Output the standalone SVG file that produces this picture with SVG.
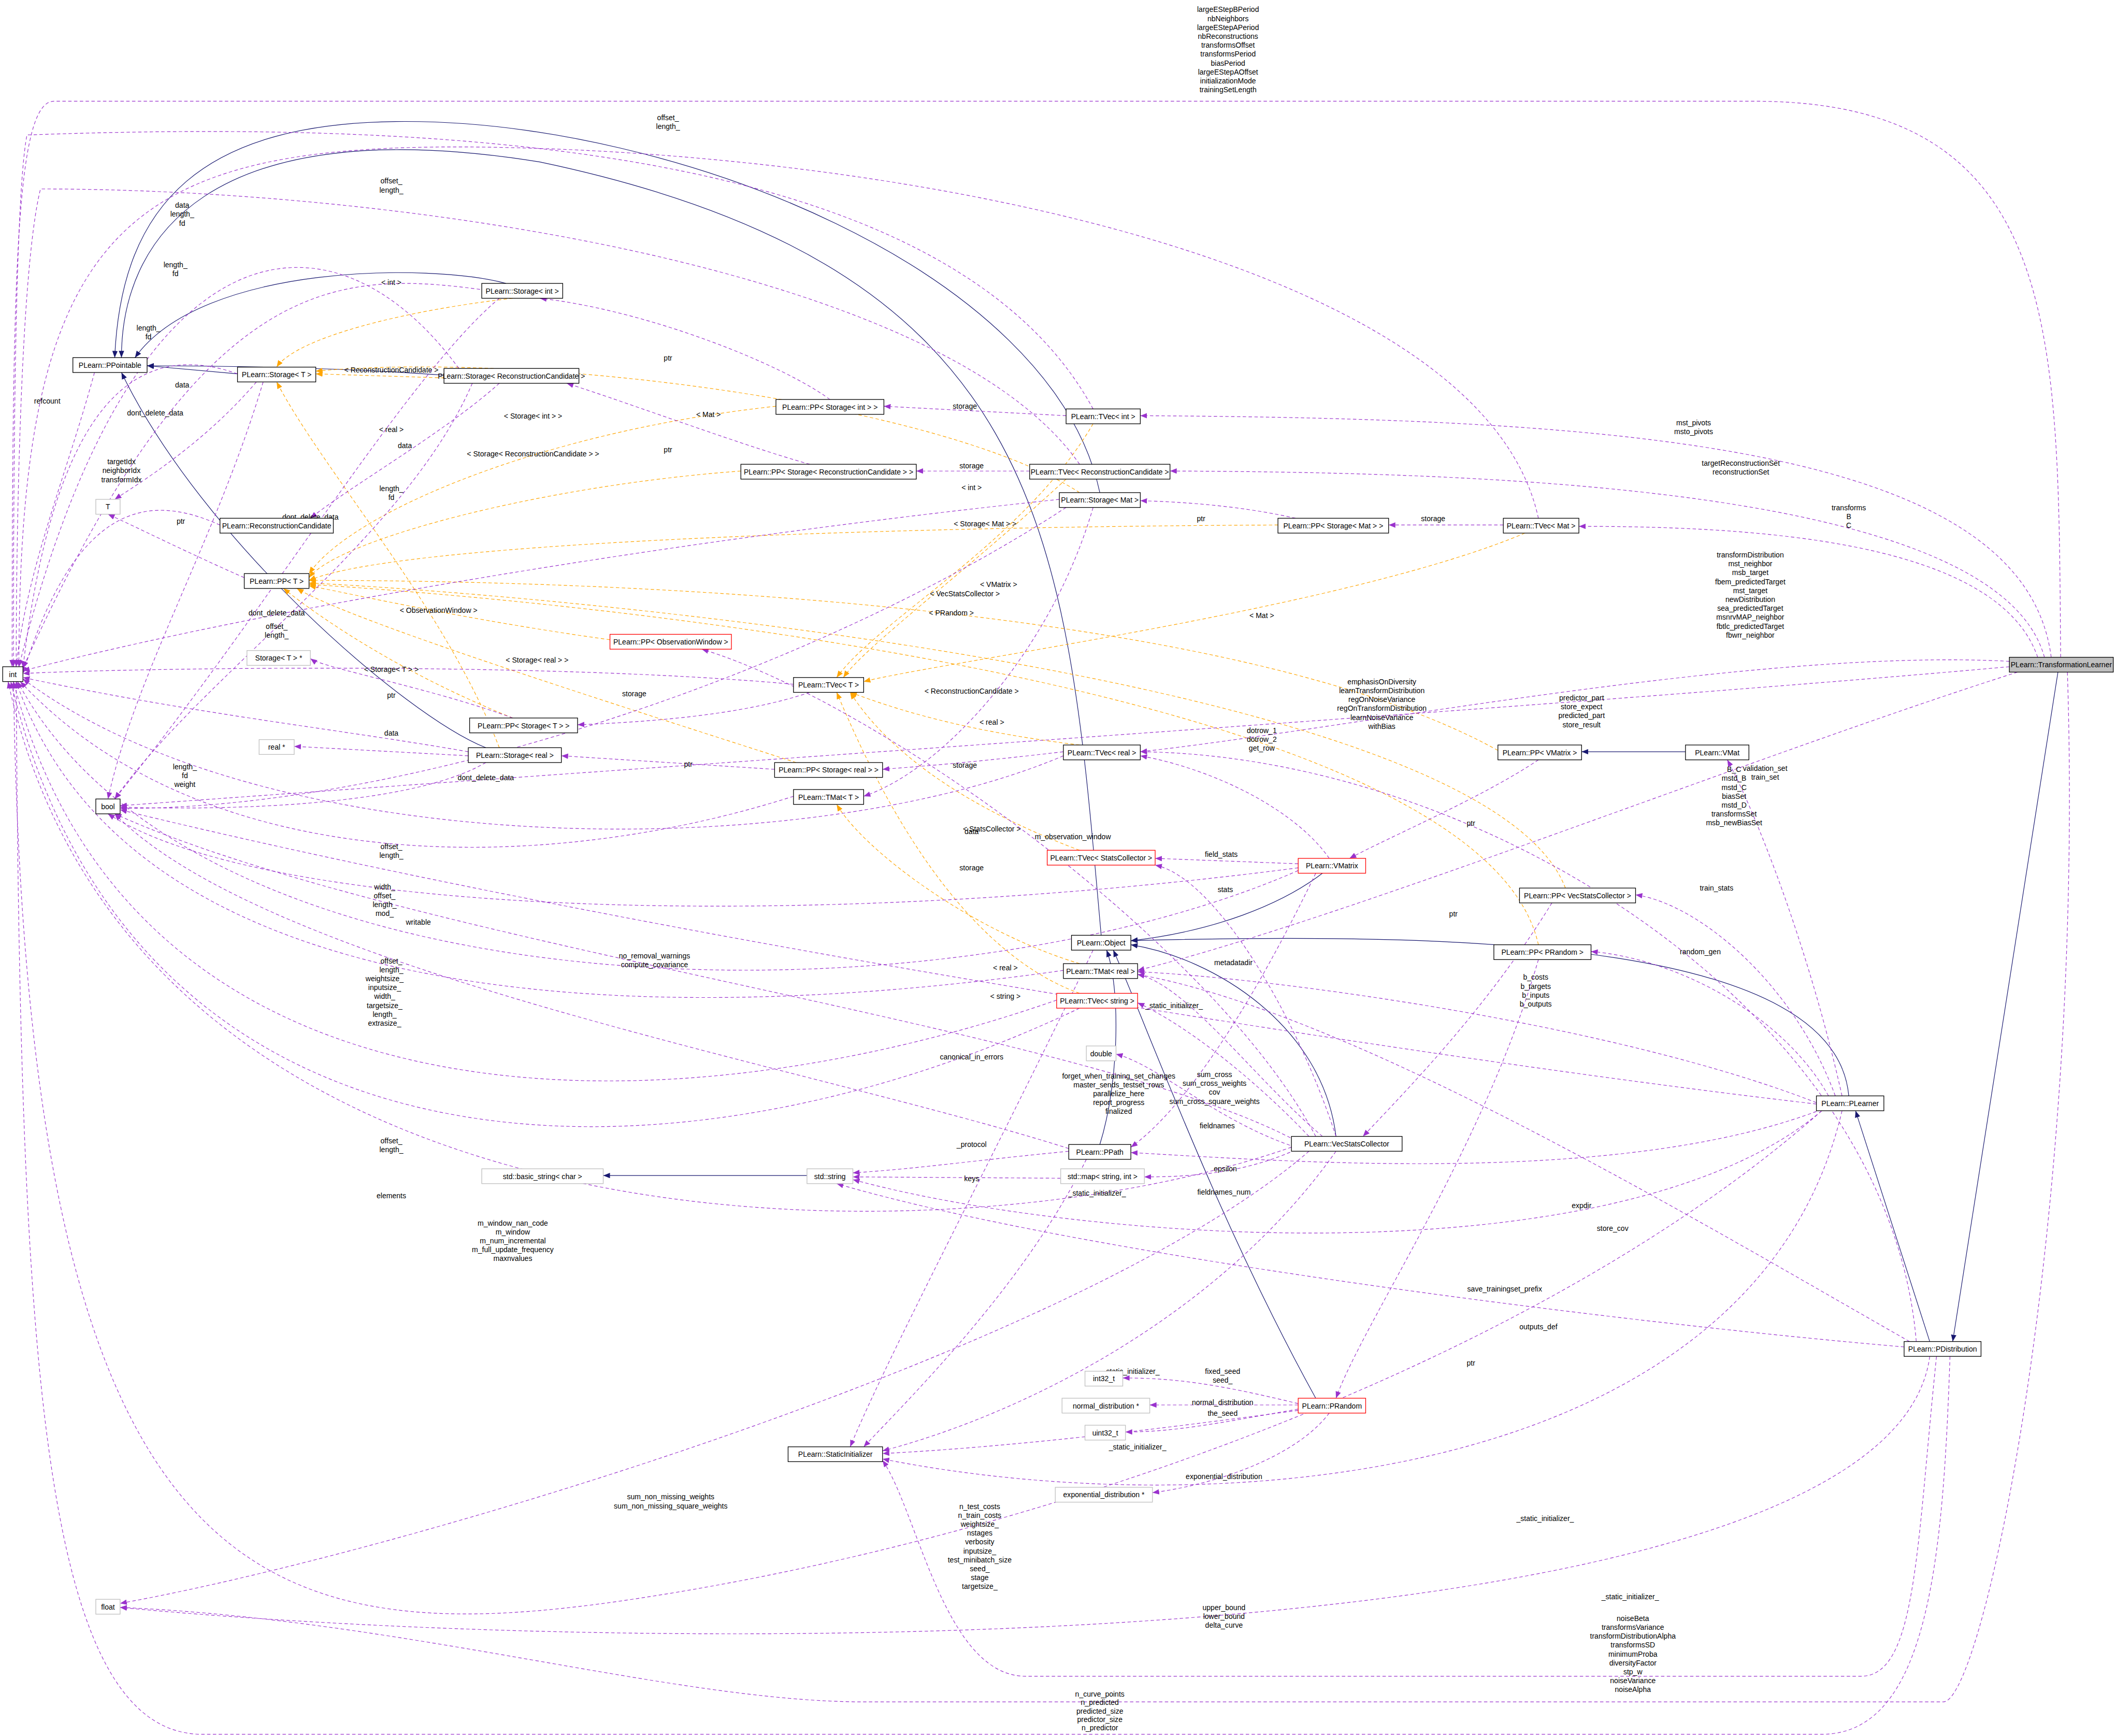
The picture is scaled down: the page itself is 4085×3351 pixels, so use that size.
<svg xmlns="http://www.w3.org/2000/svg" width="4085" height="3351" viewBox="0 0 4085 3351">
<style>
text{font-family:"Liberation Sans",Arial,sans-serif;font-size:5.4px;fill:#000}
.n rect{fill:#fff;stroke:#000;stroke-width:0.5}
.g rect{fill:#fff;stroke:#bfbfbf;stroke-width:0.5}
.r rect{fill:#fff;stroke:#f00;stroke-width:0.5}
.n text,.g text,.r text{text-anchor:middle}
.e{fill:none;stroke:#9a32cd;stroke-width:0.45;stroke-dasharray:2.5,1.8;marker-end:url(#mp)}
.o{fill:none;stroke:#ffa500;stroke-width:0.45;stroke-dasharray:2.5,1.8;marker-end:url(#mo)}
.i{fill:none;stroke:#191970;stroke-width:0.45;marker-end:url(#mi)}
.l text{text-anchor:middle}
</style>
<defs>
<marker id="mp" markerUnits="userSpaceOnUse" markerWidth="5" markerHeight="4" refX="5" refY="2" orient="auto"><path d="M0,0L5,2L0,4z" fill="#9a32cd"/></marker>
<marker id="mo" markerUnits="userSpaceOnUse" markerWidth="5" markerHeight="4" refX="5" refY="2" orient="auto"><path d="M0,0L5,2L0,4z" fill="#ffa500"/></marker>
<marker id="mi" markerUnits="userSpaceOnUse" markerWidth="5" markerHeight="4" refX="5" refY="2" orient="auto"><path d="M0,0L5,2L0,4z" fill="#191970"/></marker>
</defs>
<rect width="4085" height="3351" fill="#fff"/>
<g transform="scale(2.6052)">
<g id="connectors">
<path class="i" d="M1525,498L1447,994"/>
<path class="i" d="M1430,994L1375,823"/>
<path class="i" d="M1370,812C1360,700 1100,690 838,697"/>
<path class="i" d="M980,647C950,670 900,690 838,697"/>
<path class="i" d="M815,848C830,800 830,730 820,704"/>
<path class="i" d="M990,842C980,760 900,710 838,700"/>
<path class="i" d="M975,1036C900,900 850,760 825,704"/>
<path class="i" d="M816,693C790,400 780,200 400,120C150,80 90,180 90,265"/>
<path class="i" d="M815,365C780,200 500,90 300,90C150,90 90,150 85,265"/>
<path class="i" d="M375,210C320,195 150,195 100,265"/>
<path class="i" d="M176,277L109,271"/>
<path class="i" d="M329,278C250,272 150,271 109,271"/>
<path class="i" d="M360,554C300,530 150,400 90,276"/>
<path class="i" d="M598,871L447,871"/>
<path class="i" d="M1249,557L1172,557"/>
<path class="o" d="M575,301C400,320 260,380 229,425"/>
<path class="o" d="M549,349C400,360 250,400 229,428"/>
<path class="o" d="M947,389C700,390 300,400 229,430"/>
<path class="o" d="M1110,556C900,440 400,430 229,430"/>
<path class="o" d="M1160,658C1100,500 400,440 229,432"/>
<path class="o" d="M1140,700C1100,520 500,450 229,433"/>
<path class="o" d="M452,474C350,460 260,440 229,434"/>
<path class="o" d="M380,532C300,500 240,460 210,436"/>
<path class="o" d="M590,565C450,520 260,460 220,436"/>
<path class="o" d="M380,221C300,230 220,250 205,272"/>
<path class="o" d="M329,280L234,277"/>
<path class="o" d="M800,365C700,300 400,260 234,275"/>
<path class="o" d="M370,554C330,450 240,350 205,283"/>
<path class="o" d="M810,314C760,400 650,460 620,502"/>
<path class="o" d="M790,355C720,420 640,480 625,502"/>
<path class="o" d="M1130,395C1000,450 700,490 640,505"/>
<path class="o" d="M800,552C700,540 650,520 630,513"/>
<path class="o" d="M800,630C720,600 660,560 630,513"/>
<path class="o" d="M800,736C700,700 640,560 620,513"/>
<path class="o" d="M800,714C720,690 640,630 620,596"/>
<path class="e" d="M1527,487C1525,250 1530,75 1300,75L40,75C12,75 9,200 9,494"/>
<path class="e" d="M1520,487C1500,330 1200,310 845,308"/>
<path class="e" d="M1515,487C1480,360 1100,350 867,349"/>
<path class="e" d="M1510,487C1480,400 1300,390 1170,390"/>
<path class="e" d="M1489,490C1300,480 1000,540 845,557"/>
<path class="e" d="M1489,494C1200,520 600,560 89,597"/>
<path class="e" d="M1495,498C1300,560 1000,680 843,719"/>
<path class="e" d="M1532,498C1545,900 1470,1261 1440,1261L640,1261C500,1261 300,1200 89,1191"/>
<path class="e" d="M615,296C580,270 480,230 400,221"/>
<path class="e" d="M600,344C550,330 470,300 420,284"/>
<path class="e" d="M960,384C920,375 880,372 845,371"/>
<path class="e" d="M380,532C320,510 240,495 230,488"/>
<path class="e" d="M574,570L416,560"/>
<path class="e" d="M790,308L655,301"/>
<path class="e" d="M763,349L679,349"/>
<path class="e" d="M1114,389L1029,389"/>
<path class="e" d="M788,557C720,565 680,568 654,570"/>
<path class="e" d="M600,513C550,530 480,535 428,537"/>
<path class="e" d="M810,303C700,100 300,90 20,100C10,150 10,400 10,494"/>
<path class="e" d="M800,344C700,200 300,140 30,140C15,200 12,400 12,494"/>
<path class="e" d="M1140,384C1100,200 700,120 400,110C100,100 14,150 14,494"/>
<path class="e" d="M588,507C400,490 100,495 17,499"/>
<path class="e" d="M788,560C600,640 200,640 17,503"/>
<path class="e" d="M588,590C400,650 150,650 15,505"/>
<path class="e" d="M788,719C500,760 100,760 12,505"/>
<path class="e" d="M783,741C500,840 100,850 10,505"/>
<path class="e" d="M800,747C500,890 100,890 8,505"/>
<path class="e" d="M962,645C700,760 150,760 13,505"/>
<path class="e" d="M962,643C600,690 200,680 80,603"/>
<path class="e" d="M957,850C700,940 100,940 6,505"/>
<path class="e" d="M960,845C800,760 300,700 85,603"/>
<path class="e" d="M970,853C800,1000 300,1150 89,1188"/>
<path class="e" d="M975,842C900,700 650,520 520,481"/>
<path class="e" d="M980,842C930,800 880,730 843,722"/>
<path class="e" d="M990,842C960,750 900,650 856,641"/>
<path class="e" d="M960,850C900,830 860,790 827,781"/>
<path class="e" d="M970,842C930,800 880,760 843,743"/>
<path class="e" d="M960,852C920,870 880,872 848,872"/>
<path class="e" d="M990,853C900,980 750,1050 654,1075"/>
<path class="e" d="M1150,669C1100,750 1040,810 1010,842"/>
<path class="e" d="M962,640L856,636"/>
<path class="e" d="M985,636C960,600 900,570 845,560"/>
<path class="e" d="M975,647C930,740 880,820 838,850"/>
<path class="e" d="M810,704C740,850 660,1000 630,1072"/>
<path class="e" d="M1140,563C1100,590 1030,620 1000,636"/>
<path class="e" d="M792,853C720,860 680,866 632,869"/>
<path class="e" d="M792,851C600,790 200,720 85,603"/>
<path class="e" d="M805,859C760,950 680,1030 640,1072"/>
<path class="e" d="M786,873L632,872"/>
<path class="e" d="M1365,812C1340,700 1300,600 1280,563"/>
<path class="e" d="M1360,812C1330,730 1260,670 1212,663"/>
<path class="e" d="M1355,812C1320,750 1240,710 1179,705"/>
<path class="e" d="M1346,817C1200,760 950,725 843,720"/>
<path class="e" d="M1350,822C1200,880 950,860 838,854"/>
<path class="e" d="M1350,823C1200,950 800,920 632,874"/>
<path class="e" d="M1365,823C1300,1100 900,1130 654,1081"/>
<path class="e" d="M1350,823C1150,1000 800,1130 500,1180C200,1230 20,1200 10,505"/>
<path class="e" d="M1346,818C1100,790 500,700 89,600"/>
<path class="e" d="M1411,998C1200,980 800,930 620,877"/>
<path class="e" d="M1415,994C1250,900 1000,750 843,722"/>
<path class="e" d="M1435,1005C1420,1150 1420,1242 1379,1242L760,1242C700,1242 680,1120 654,1082"/>
<path class="e" d="M1430,1005C1400,1230 500,1230 89,1191"/>
<path class="e" d="M1445,1005C1440,1150 1430,1285 1350,1285L150,1285C30,1285 15,1000 12,505"/>
<path class="e" d="M1420,994C1400,750 1100,560 845,557"/>
<path class="e" d="M962,1040C900,1025 870,1021 832,1021"/>
<path class="e" d="M962,1041L852,1041"/>
<path class="e" d="M962,1044C900,1055 870,1061 834,1061"/>
<path class="e" d="M962,1045C850,1060 750,1072 654,1077"/>
<path class="e" d="M985,1047C960,1080 900,1100 854,1106"/>
<path class="e" d="M1140,711C1100,850 1010,980 990,1036"/>
<path class="e" d="M360,215C250,200 150,200 17,495"/>
<path class="e" d="M370,221C300,280 200,450 85,592"/>
<path class="e" d="M176,277C100,250 40,300 17,495"/>
<path class="e" d="M190,283C150,330 100,360 85,370"/>
<path class="e" d="M195,283C160,400 100,500 80,592"/>
<path class="e" d="M370,284C330,320 260,360 230,384"/>
<path class="e" d="M340,273C250,150 100,150 14,494"/>
<path class="e" d="M350,284C300,400 150,500 85,592"/>
<path class="e" d="M785,370C500,400 200,450 17,497"/>
<path class="e" d="M790,376C600,500 300,600 89,599"/>
<path class="e" d="M810,376C780,480 700,570 640,590"/>
<path class="e" d="M347,560L218,553"/>
<path class="e" d="M347,557C250,540 150,530 17,502"/>
<path class="e" d="M360,565C300,600 150,600 89,598"/>
<path class="e" d="M163,389C120,370 60,360 17,499"/>
<path class="e" d="M70,276C50,350 20,420 12,494"/>
<path class="e" d="M181,428C140,410 100,390 80,381"/>
</g>
<g class="l">
<text x="910" y="9"><tspan x="910">largeEStepBPeriod</tspan><tspan x="910" dy="6.6">nbNeighbors</tspan><tspan x="910" dy="6.6">largeEStepAPeriod</tspan><tspan x="910" dy="6.6">nbReconstructions</tspan><tspan x="910" dy="6.6">transformsOffset</tspan><tspan x="910" dy="6.6">transformsPeriod</tspan><tspan x="910" dy="6.6">biasPeriod</tspan><tspan x="910" dy="6.6">largeEStepAOffset</tspan><tspan x="910" dy="6.6">initializationMode</tspan><tspan x="910" dy="6.6">trainingSetLength</tspan></text>
<text x="1255" y="315"><tspan x="1255">mst_pivots</tspan><tspan x="1255" dy="6.6">msto_pivots</tspan></text>
<text x="1290" y="345"><tspan x="1290">targetReconstructionSet</tspan><tspan x="1290" dy="6.6">reconstructionSet</tspan></text>
<text x="1370" y="378"><tspan x="1370">transforms</tspan><tspan x="1370" dy="6.6">B</tspan><tspan x="1370" dy="6.6">C</tspan></text>
<text x="1297" y="413"><tspan x="1297">transformDistribution</tspan><tspan x="1297" dy="6.6">mst_neighbor</tspan><tspan x="1297" dy="6.6">msb_target</tspan><tspan x="1297" dy="6.6">fbem_predictedTarget</tspan><tspan x="1297" dy="6.6">mst_target</tspan><tspan x="1297" dy="6.6">newDistribution</tspan><tspan x="1297" dy="6.6">sea_predictedTarget</tspan><tspan x="1297" dy="6.6">msnrvMAP_neighbor</tspan><tspan x="1297" dy="6.6">fbtlc_predictedTarget</tspan><tspan x="1297" dy="6.6">fbwrr_neighbor</tspan></text>
<text x="1024" y="507"><tspan x="1024">emphasisOnDiversity</tspan><tspan x="1024" dy="6.6">learnTransformDistribution</tspan><tspan x="1024" dy="6.6">regOnNoiseVariance</tspan><tspan x="1024" dy="6.6">regOnTransformDistribution</tspan><tspan x="1024" dy="6.6">learnNoiseVariance</tspan><tspan x="1024" dy="6.6">withBias</tspan></text>
<text x="1172" y="519"><tspan x="1172">predictor_part</tspan><tspan x="1172" dy="6.6">store_expect</tspan><tspan x="1172" dy="6.6">predicted_part</tspan><tspan x="1172" dy="6.6">store_result</tspan></text>
<text x="1285" y="572"><tspan x="1285">B_C</tspan><tspan x="1285" dy="6.6">mstd_B</tspan><tspan x="1285" dy="6.6">mstd_C</tspan><tspan x="1285" dy="6.6">biasSet</tspan><tspan x="1285" dy="6.6">mstd_D</tspan><tspan x="1285" dy="6.6">transformsSet</tspan><tspan x="1285" dy="6.6">msb_newBiasSet</tspan></text>
<text x="1295" y="571"><tspan x="1308">validation_set</tspan><tspan x="1308" dy="6.6">train_set</tspan></text>
<text x="1272" y="660">train_stats</text>
<text x="1260" y="707">random_gen</text>
<text x="1138" y="726"><tspan x="1138">b_costs</tspan><tspan x="1138" dy="6.6">b_targets</tspan><tspan x="1138" dy="6.6">b_inputs</tspan><tspan x="1138" dy="6.6">b_outputs</tspan></text>
<text x="1172" y="895">expdir</text>
<text x="1115" y="957">save_trainingset_prefix</text>
<text x="1145" y="1127">_static_initializer_</text>
<text x="726" y="1118"><tspan x="726">n_test_costs</tspan><tspan x="726" dy="6.6">n_train_costs</tspan><tspan x="726" dy="6.6">weightsize_</tspan><tspan x="726" dy="6.6">nstages</tspan><tspan x="726" dy="6.6">verbosity</tspan><tspan x="726" dy="6.6">inputsize_</tspan><tspan x="726" dy="6.6">test_minibatch_size</tspan><tspan x="726" dy="6.6">seed_</tspan><tspan x="726" dy="6.6">stage</tspan><tspan x="726" dy="6.6">targetsize_</tspan></text>
<text x="829" y="799"><tspan x="829">forget_when_training_set_changes</tspan><tspan x="829" dy="6.6">master_sends_testset_rows</tspan><tspan x="829" dy="6.6">parallelize_here</tspan><tspan x="829" dy="6.6">report_progress</tspan><tspan x="829" dy="6.6">finalized</tspan></text>
<text x="1140" y="985">outputs_def</text>
<text x="1195" y="912">store_cov</text>
<text x="1208" y="1185">_static_initializer_</text>
<text x="907" y="1193"><tspan x="907">upper_bound</tspan><tspan x="907" dy="6.6">lower_bound</tspan><tspan x="907" dy="6.6">delta_curve</tspan></text>
<text x="1210" y="1201"><tspan x="1210">noiseBeta</tspan><tspan x="1210" dy="6.6">transformsVariance</tspan><tspan x="1210" dy="6.6">transformDistributionAlpha</tspan><tspan x="1210" dy="6.6">transformsSD</tspan><tspan x="1210" dy="6.6">minimumProba</tspan><tspan x="1210" dy="6.6">diversityFactor</tspan><tspan x="1210" dy="6.6">stp_w</tspan><tspan x="1210" dy="6.6">noiseVariance</tspan><tspan x="1210" dy="6.6">noiseAlpha</tspan></text>
<text x="815" y="1257"><tspan x="815">n_curve_points</tspan><tspan x="815" dy="6.3">n_predicted</tspan><tspan x="815" dy="6.3">predicted_size</tspan><tspan x="815" dy="6.3">predictor_size</tspan><tspan x="815" dy="6.3">n_predictor</tspan></text>
<text x="906" y="1018"><tspan x="906">fixed_seed</tspan><tspan x="906" dy="6.6">seed_</tspan></text>
<text x="906" y="1041">normal_distribution</text>
<text x="906" y="1049">the_seed</text>
<text x="843" y="1074">_static_initializer_</text>
<text x="907" y="1096">exponential_distribution</text>
<text x="1090" y="1012">ptr</text>
<text x="1077" y="679">ptr</text>
<text x="1090" y="612">ptr</text>
<text x="905" y="635">field_stats</text>
<text x="935" y="543"><tspan x="935">dotrow_1</tspan><tspan x="935" dy="6.6">dotrow_2</tspan><tspan x="935" dy="6.6">get_row</tspan></text>
<text x="914" y="715">metadatadir</text>
<text x="870" y="747">_static_initializer_</text>
<text x="813" y="886">_static_initializer_</text>
<text x="838" y="1018">_static_initializer_</text>
<text x="900" y="798"><tspan x="900">sum_cross</tspan><tspan x="900" dy="6.6">sum_cross_weights</tspan><tspan x="900" dy="6.6">cov</tspan><tspan x="900" dy="6.6">sum_cross_square_weights</tspan></text>
<text x="908" y="661">stats</text>
<text x="908" y="868">epsilon</text>
<text x="902" y="836">fieldnames</text>
<text x="907" y="885">fieldnames_num</text>
<text x="795" y="622">m_observation_window</text>
<text x="380" y="908"><tspan x="380">m_window_nan_code</tspan><tspan x="380" dy="6.6">m_window</tspan><tspan x="380" dy="6.6">m_num_incremental</tspan><tspan x="380" dy="6.6">m_full_update_frequency</tspan><tspan x="380" dy="6.6">maxnvalues</tspan></text>
<text x="485" y="710"><tspan x="485">no_removal_warnings</tspan><tspan x="485" dy="6.6">compute_covariance</tspan></text>
<text x="497" y="1111"><tspan x="497">sum_non_missing_weights</tspan><tspan x="497" dy="6.6">sum_non_missing_square_weights</tspan></text>
<text x="310" y="685">writable</text>
<text x="285" y="727"><tspan x="285">weightsize_</tspan><tspan x="285" dy="6.6">inputsize_</tspan><tspan x="285" dy="6.6">width_</tspan><tspan x="285" dy="6.6">targetsize_</tspan><tspan x="285" dy="6.6">length_</tspan><tspan x="285" dy="6.6">extrasize_</tspan></text>
<text x="720" y="785">canonical_in_errors</text>
<text x="720" y="850">_protocol</text>
<text x="720" y="875">keys</text>
<text x="290" y="847"><tspan x="290">offset_</tspan><tspan x="290" dy="6.6">length_</tspan></text>
<text x="290" y="888">elements</text>
<text x="285" y="659"><tspan x="285">width_</tspan><tspan x="285" dy="6.6">offset_</tspan><tspan x="285" dy="6.6">length_</tspan><tspan x="285" dy="6.6">mod_</tspan></text>
<text x="290" y="629"><tspan x="290">offset_</tspan><tspan x="290" dy="6.6">length_</tspan></text>
<text x="290" y="714"><tspan x="290">offset_</tspan><tspan x="290" dy="6.6">length_</tspan></text>
<text x="205" y="466"><tspan x="205">offset_</tspan><tspan x="205" dy="6.6">length_</tspan></text>
<text x="495" y="89"><tspan x="495">offset_</tspan><tspan x="495" dy="6.6">length_</tspan></text>
<text x="290" y="136"><tspan x="290">offset_</tspan><tspan x="290" dy="6.6">length_</tspan></text>
<text x="135" y="154"><tspan x="135">data</tspan><tspan x="135" dy="6.6">length_</tspan><tspan x="135" dy="6.6">fd</tspan></text>
<text x="130" y="198"><tspan x="130">length_</tspan><tspan x="130" dy="6.6">fd</tspan></text>
<text x="110" y="245"><tspan x="110">length_</tspan><tspan x="110" dy="6.6">fd</tspan></text>
<text x="290" y="364"><tspan x="290">length_</tspan><tspan x="290" dy="6.6">fd</tspan></text>
<text x="137" y="570"><tspan x="137">length_</tspan><tspan x="137" dy="6.6">fd</tspan><tspan x="137" dy="6.6">weight</tspan></text>
<text x="115" y="308">dont_delete_data</text>
<text x="230" y="385">dont_delete_data</text>
<text x="205" y="456">dont_delete_data</text>
<text x="360" y="578">dont_delete_data</text>
<text x="135" y="287">data</text>
<text x="300" y="332">data</text>
<text x="290" y="545">data</text>
<text x="720" y="618">data</text>
<text x="90" y="344"><tspan x="90">targetIdx</tspan><tspan x="90" dy="6.6">neighborIdx</tspan><tspan x="90" dy="6.6">transformIdx</tspan></text>
<text x="35" y="299">refcount</text>
<text x="134" y="388">ptr</text>
<text x="495" y="267">ptr</text>
<text x="495" y="335">ptr</text>
<text x="890" y="386">ptr</text>
<text x="290" y="517">ptr</text>
<text x="510" y="568">ptr</text>
<text x="715" y="303">storage</text>
<text x="720" y="347">storage</text>
<text x="1062" y="386">storage</text>
<text x="715" y="569">storage</text>
<text x="470" y="516">storage</text>
<text x="720" y="645">storage</text>
<text x="395" y="310">&lt; Storage&lt; int &gt; &gt;</text>
<text x="395" y="338">&lt; Storage&lt; ReconstructionCandidate &gt; &gt;</text>
<text x="730" y="390">&lt; Storage&lt; Mat &gt; &gt;</text>
<text x="740" y="435">&lt; VMatrix &gt;</text>
<text x="715" y="442">&lt; VecStatsCollector &gt;</text>
<text x="705" y="456">&lt; PRandom &gt;</text>
<text x="325" y="454">&lt; ObservationWindow &gt;</text>
<text x="290" y="498">&lt; Storage&lt; T &gt; &gt;</text>
<text x="398" y="491">&lt; Storage&lt; real &gt; &gt;</text>
<text x="290" y="211">&lt; int &gt;</text>
<text x="290" y="276">&lt; ReconstructionCandidate &gt;</text>
<text x="525" y="309">&lt; Mat &gt;</text>
<text x="290" y="320">&lt; real &gt;</text>
<text x="720" y="363">&lt; int &gt;</text>
<text x="720" y="514">&lt; ReconstructionCandidate &gt;</text>
<text x="935" y="458">&lt; Mat &gt;</text>
<text x="735" y="537">&lt; real &gt;</text>
<text x="735" y="616">&lt; StatsCollector &gt;</text>
<text x="745" y="740">&lt; string &gt;</text>
<text x="745" y="719">&lt; real &gt;</text>
</g>
<g id="TransformationLearner"><rect x="1489" y="487" width="77" height="11" fill="#bfbfbf" stroke="#000" stroke-width="0.5"/><text x="1527.5" y="494.5" text-anchor="middle">PLearn::TransformationLearner</text></g>
<g id="int" class="n"><rect x="2" y="494" width="15" height="11"/><text x="9.5" y="501.5">int</text></g>
<g id="bool" class="n"><rect x="71" y="592" width="18" height="11"/><text x="80" y="599.5">bool</text></g>
<g id="float" class="g"><rect x="71" y="1185" width="18" height="11"/><text x="80" y="1192.5">float</text></g>
<g id="PPointable" class="n"><rect x="54" y="265" width="55" height="11"/><text x="81.5" y="272.5">PLearn::PPointable</text></g>
<g id="StorageT" class="n"><rect x="176" y="272" width="58" height="11"/><text x="205" y="279.5">PLearn::Storage&lt; T &gt;</text></g>
<g id="StorageInt" class="n"><rect x="357" y="210" width="60" height="11"/><text x="387" y="217.5">PLearn::Storage&lt; int &gt;</text></g>
<g id="StorageRC" class="n"><rect x="329" y="273" width="100" height="11"/><text x="379" y="280.5">PLearn::Storage&lt; ReconstructionCandidate &gt;</text></g>
<g id="T" class="g"><rect x="71" y="370" width="18" height="11"/><text x="80" y="377.5">T</text></g>
<g id="RC" class="n"><rect x="163" y="384" width="84" height="11"/><text x="205" y="391.5">PLearn::ReconstructionCandidate</text></g>
<g id="PPT" class="n"><rect x="181" y="425" width="48" height="11"/><text x="205" y="432.5">PLearn::PP&lt; T &gt;</text></g>
<g id="StorageTptr" class="g"><rect x="183" y="482" width="47" height="11"/><text x="206.5" y="489.5">Storage&lt; T &gt; *</text></g>
<g id="realptr" class="g"><rect x="192" y="548" width="26" height="11"/><text x="205" y="555.5">real *</text></g>
<g id="PPStorageT" class="n"><rect x="348" y="532" width="80" height="11"/><text x="388" y="539.5">PLearn::PP&lt; Storage&lt; T &gt; &gt;</text></g>
<g id="StorageReal" class="n"><rect x="347" y="554" width="69" height="11"/><text x="381.5" y="561.5">PLearn::Storage&lt; real &gt;</text></g>
<g id="PPStorageInt" class="n"><rect x="575" y="296" width="80" height="11"/><text x="615" y="303.5">PLearn::PP&lt; Storage&lt; int &gt; &gt;</text></g>
<g id="PPStorageRC" class="n"><rect x="549" y="344" width="130" height="11"/><text x="614" y="351.5">PLearn::PP&lt; Storage&lt; ReconstructionCandidate &gt; &gt;</text></g>
<g id="StorageMat" class="n"><rect x="785" y="365" width="60" height="11"/><text x="815" y="372.5">PLearn::Storage&lt; Mat &gt;</text></g>
<g id="TVecInt" class="n"><rect x="790" y="303" width="55" height="11"/><text x="817.5" y="310.5">PLearn::TVec&lt; int &gt;</text></g>
<g id="TVecRC" class="n"><rect x="763" y="344" width="104" height="11"/><text x="815" y="351.5">PLearn::TVec&lt; ReconstructionCandidate &gt;</text></g>
<g id="PPStorageMat" class="n"><rect x="947" y="384" width="82" height="11"/><text x="988" y="391.5">PLearn::PP&lt; Storage&lt; Mat &gt; &gt;</text></g>
<g id="TVecMat" class="n"><rect x="1114" y="384" width="56" height="11"/><text x="1142" y="391.5">PLearn::TVec&lt; Mat &gt;</text></g>
<g id="PPObsWin" class="r"><rect x="452" y="470" width="90" height="11"/><text x="497" y="477.5">PLearn::PP&lt; ObservationWindow &gt;</text></g>
<g id="TVecT" class="n"><rect x="588" y="502" width="52" height="11"/><text x="614" y="509.5">PLearn::TVec&lt; T &gt;</text></g>
<g id="TVecReal" class="n"><rect x="788" y="552" width="57" height="11"/><text x="816.5" y="559.5">PLearn::TVec&lt; real &gt;</text></g>
<g id="PPStorageReal" class="n"><rect x="574" y="565" width="80" height="11"/><text x="614" y="572.5">PLearn::PP&lt; Storage&lt; real &gt; &gt;</text></g>
<g id="TMatT" class="n"><rect x="588" y="585" width="52" height="11"/><text x="614" y="592.5">PLearn::TMat&lt; T &gt;</text></g>
<g id="TVecSC" class="r"><rect x="776" y="630" width="80" height="11"/><text x="816" y="637.5">PLearn::TVec&lt; StatsCollector &gt;</text></g>
<g id="VMatrix" class="r"><rect x="962" y="636" width="50" height="11"/><text x="987" y="643.5">PLearn::VMatrix</text></g>
<g id="PPVMatrix" class="n"><rect x="1110" y="552" width="62" height="11"/><text x="1141" y="559.5">PLearn::PP&lt; VMatrix &gt;</text></g>
<g id="VMat" class="n"><rect x="1249" y="552" width="47" height="11"/><text x="1272.5" y="559.5">PLearn::VMat</text></g>
<g id="PPVSC" class="n"><rect x="1126" y="658" width="86" height="11"/><text x="1169" y="665.5">PLearn::PP&lt; VecStatsCollector &gt;</text></g>
<g id="Object" class="n"><rect x="794" y="693" width="44" height="11"/><text x="816" y="700.5">PLearn::Object</text></g>
<g id="TMatReal" class="n"><rect x="788" y="714" width="55" height="11"/><text x="815.5" y="721.5">PLearn::TMat&lt; real &gt;</text></g>
<g id="PPPRandom" class="n"><rect x="1107" y="700" width="72" height="11"/><text x="1143" y="707.5">PLearn::PP&lt; PRandom &gt;</text></g>
<g id="TVecString" class="r"><rect x="783" y="736" width="60" height="11"/><text x="813" y="743.5">PLearn::TVec&lt; string &gt;</text></g>
<g id="double" class="g"><rect x="805" y="775" width="22" height="11"/><text x="816" y="782.5">double</text></g>
<g id="PPath" class="n"><rect x="792" y="848" width="46" height="11"/><text x="815" y="855.5">PLearn::PPath</text></g>
<g id="VecStatsCollector" class="n"><rect x="957" y="842" width="82" height="11"/><text x="998" y="849.5">PLearn::VecStatsCollector</text></g>
<g id="basicString" class="g"><rect x="357" y="866" width="90" height="11"/><text x="402" y="873.5">std::basic_string&lt; char &gt;</text></g>
<g id="stdString" class="g"><rect x="598" y="866" width="34" height="11"/><text x="615" y="873.5">std::string</text></g>
<g id="stdMap" class="g"><rect x="786" y="866" width="62" height="11"/><text x="817" y="873.5">std::map&lt; string, int &gt;</text></g>
<g id="PLearner" class="n"><rect x="1346" y="812" width="50" height="11"/><text x="1371" y="819.5">PLearn::PLearner</text></g>
<g id="PDistribution" class="n"><rect x="1411" y="994" width="57" height="11"/><text x="1439.5" y="1001.5">PLearn::PDistribution</text></g>
<g id="int32" class="g"><rect x="804" y="1016" width="28" height="11"/><text x="818" y="1023.5">int32_t</text></g>
<g id="normalDist" class="g"><rect x="787" y="1036" width="65" height="11"/><text x="819.5" y="1043.5">normal_distribution *</text></g>
<g id="uint32" class="g"><rect x="804" y="1056" width="30" height="11"/><text x="819" y="1063.5">uint32_t</text></g>
<g id="PRandom" class="r"><rect x="962" y="1036" width="50" height="11"/><text x="987" y="1043.5">PLearn::PRandom</text></g>
<g id="StaticInitializer" class="n"><rect x="584" y="1072" width="70" height="11"/><text x="619" y="1079.5">PLearn::StaticInitializer</text></g>
<g id="expDist" class="g"><rect x="782" y="1102" width="72" height="11"/><text x="818" y="1109.5">exponential_distribution *</text></g>
</g>
</svg>
